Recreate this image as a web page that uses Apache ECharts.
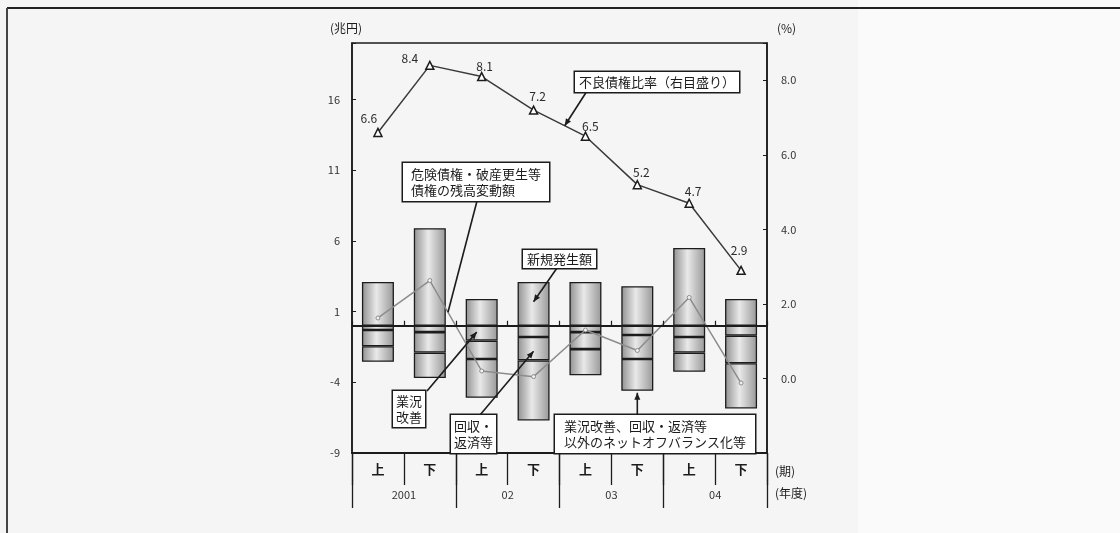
<!DOCTYPE html>
<html lang="ja">
<head>
<meta charset="utf-8">
<title>不良債権の増減要因と不良債権比率</title>
<script src="https://cdn.jsdelivr.net/npm/echarts@6/dist/echarts.min.js"></script>
<style>
  html, body { margin: 0; padding: 0; }
  body { width: 1120px; height: 533px; overflow: hidden;
         background: linear-gradient(to right, #f5f5f5 0, #f5f5f5 858px, #fafafa 858px); }
  #chart { width: 1120px; height: 533px; }
</style>
</head>
<body>
<div id="chart"></div>
<script>
// Half-year periods (上期 / 下期) and fiscal years
const periods = ['上', '下', '上', '下', '上', '下', '上', '下'];
const fiscalYears = ['2001', '02', '03', '04'];

// 兆円 — flows behind the change in problem loans
const newBad     = [3.1, 6.9, 1.9, 3.1, 3.1, 2.8, 5.5, 1.9];          // 新規発生額
const improved   = [-0.3, -0.45, -1.05, -0.8, -0.45, -0.65, -0.8, -0.7]; // 業況改善
const recovered  = [-1.15, -1.45, -1.3, -1.65, -1.2, -1.7, -1.1, -1.95]; // 回収・返済等
const offBalance = [-1.1, -1.8, -2.75, -4.25, -1.85, -2.25, -1.35, -3.2]; // その他ネットオフバランス化等
const balanceChange = [0.55, 3.2, -3.2, -3.6, -0.3, -1.75, 2.0, -4.05];  // 残高変動額

// % — 不良債権比率 (right scale)
const nplRatio = [6.6, 8.4, 8.1, 7.2, 6.5, 5.2, 4.7, 2.9];

// Tick labels
const leftTicks = [-9, -4, 1, 6, 11, 16];
const rightTicks = [0, 2, 4, 6, 8];

const FONT = '"Noto Sans CJK JP", "Noto Sans", sans-serif';
const INK = '#1c1c1c';

const chart = echarts.init(document.getElementById('chart'), null, { renderer: 'canvas' });

const barFill = new echarts.graphic.LinearGradient(0, 0, 1, 0, [
  { offset: 0, color: '#909090' },
  { offset: 0.45, color: '#e9e9e9' },
  { offset: 1, color: '#989898' }
]);

function flowBar(name, data) {
  return {
    name, type: 'bar', stack: 'flow', xAxisIndex: 0, yAxisIndex: 0,
    data, barWidth: 32,
    itemStyle: { color: barFill, borderColor: INK, borderWidth: 1.3 },
    emphasis: { disabled: true }
  };
}

// label placement for the ratio values
const ratioLabelOffsets = [[-9, 0], [-20, 7], [3, 4], [4, 0], [5, 4], [4, 2], [4, 2], [-2, -6]];

const option = {
  animation: false,
  textStyle: { fontFamily: FONT, color: INK },
  grid: {
    left: 352, right: 353, top: 43, bottom: 80,
    show: true, borderColor: INK, borderWidth: 1.6, backgroundColor: 'transparent'
  },
  xAxis: [
    { // zero line with period ticks
      type: 'category', data: periods, position: 'bottom', z: 5,
      axisLine: { onZero: true, onZeroAxisIndex: 0, lineStyle: { color: INK, width: 2 } },
      axisTick: { show: true, inside: true, length: 5, lineStyle: { color: INK, width: 1.2 } },
      axisLabel: { show: false }, splitLine: { show: false }
    },
    { // half-year row
      type: 'category', data: periods, position: 'bottom',
      axisLine: { onZero: false, lineStyle: { color: INK, width: 2 } },
      axisTick: { show: true, length: 32, lineStyle: { color: INK, width: 1.3 } },
      axisLabel: { margin: 10, fontSize: 13, fontWeight: 'bold', color: INK, fontFamily: FONT },
      splitLine: { show: false }
    },
    { // fiscal-year row
      type: 'category', data: fiscalYears, position: 'bottom',
      axisLine: { show: false, onZero: false },
      axisTick: { show: true, length: 55, lineStyle: { color: INK, width: 1.3 } },
      axisLabel: { margin: 36, fontSize: 11, color: '#333', fontFamily: FONT },
      splitLine: { show: false }
    }
  ],
  yAxis: [
    {
      type: 'value', position: 'left', min: -9, max: 20, interval: 5,
      axisLine: { show: true, lineStyle: { color: INK, width: 1.5 } },
      axisTick: { show: true, inside: true, length: 4, lineStyle: { color: INK } },
      axisLabel: {
        margin: 12, fontSize: 11, color: '#333', fontFamily: FONT,
        formatter: v => (leftTicks.includes(v) ? String(v) : '')
      },
      splitLine: { show: false }
    },
    {
      type: 'value', position: 'right', min: -2, max: 9, interval: 2,
      axisLine: { show: true, lineStyle: { color: INK, width: 1.5 } },
      axisTick: { show: true, inside: true, length: 4, lineStyle: { color: INK } },
      axisLabel: {
        margin: 14, fontSize: 11, color: '#333', fontFamily: FONT,
        formatter: v => (rightTicks.includes(v) ? v.toFixed(1) : '')
      },
      splitLine: { show: false }
    }
  ],
  series: [
    flowBar('新規発生額', newBad),
    flowBar('業況改善', improved),
    flowBar('回収・返済等', recovered),
    flowBar('ネットオフバランス化等', offBalance),
    {
      name: '残高変動額', type: 'line', xAxisIndex: 0, yAxisIndex: 0, z: 4,
      data: balanceChange,
      symbol: 'circle', symbolSize: 4,
      itemStyle: { color: '#f2f2f2', borderColor: '#8c8c8c', borderWidth: 1 },
      lineStyle: { color: '#8c8c8c', width: 1.5 },
      emphasis: { disabled: true }
    },
    {
      name: '不良債権比率', type: 'line', xAxisIndex: 0, yAxisIndex: 1, z: 6,
      data: nplRatio.map((v, i) => ({ value: v, label: { offset: ratioLabelOffsets[i] } })),
      symbol: 'triangle', symbolSize: 8,
      itemStyle: { color: '#ffffff', borderColor: INK, borderWidth: 1.5 },
      lineStyle: { color: '#3a3a3a', width: 1.5 },
      label: {
        show: true, position: 'top', distance: 3, fontSize: 12, color: '#2a2a2a',
        fontFamily: FONT, formatter: p => p.value.toFixed(1)
      },
      emphasis: { disabled: true }
    }
  ]
};

chart.setOption(option);

// ---- callouts, units and frame ----
const px = (i, v, yi) => chart.convertToPixel({ xAxisIndex: 0, yAxisIndex: yi || 0 }, [i, v]);
const lerp = (a, b, t) => [a[0] + (b[0] - a[0]) * t, a[1] + (b[1] - a[1]) * t];

function pointer(from, to, head) {
  const els = [{
    type: 'line', silent: true, z: 20,
    shape: { x1: from[0], y1: from[1], x2: to[0], y2: to[1] },
    style: { stroke: INK, lineWidth: 1.6 }
  }];
  if (head) {
    const dx = to[0] - from[0], dy = to[1] - from[1];
    const len = Math.hypot(dx, dy), ux = dx / len, uy = dy / len;
    const hl = 7, hw = 3;
    const bx = to[0] - ux * hl, by = to[1] - uy * hl;
    els.push({
      type: 'polygon', silent: true, z: 20,
      shape: { points: [to, [bx - uy * hw, by + ux * hw], [bx + uy * hw, by - ux * hw]] },
      style: { fill: INK }
    });
  }
  return els;
}

function box(x, y, text, padding, align) {
  return {
    type: 'text', silent: true, z: 21, x, y,
    style: {
      text, font: '13px ' + FONT, fill: INK, lineHeight: 16, align: align || 'left',
      backgroundColor: '#ffffff', borderColor: INK, borderWidth: 1.5, padding
    }
  };
}

function plain(x, y, text, align, size) {
  return {
    type: 'text', silent: true, z: 21, x, y,
    style: { text, font: (size || 12) + 'px ' + FONT, fill: INK, align: align || 'left', verticalAlign: 'middle' }
  };
}

const ratioTip = lerp(px(3, nplRatio[3], 1), px(4, nplRatio[4], 1), 0.6);
const changeTip = lerp(px(1, balanceChange[1]), px(2, balanceChange[2]), 0.35);
const newTip = px(3, 1.7);
const improvedTip = px(2, -0.45); improvedTip[0] -= 5;
const recoveredTip = px(3, -1.8);
const otherBottom = improved[5] + recovered[5] + offBalance[5];
const otherTip = px(5, otherBottom); otherTip[1] += 2;

const elements = [
  // frame lines
  { type: 'line', silent: true, shape: { x1: 7, y1: 8, x2: 1120, y2: 8 }, style: { stroke: '#222', lineWidth: 2 } },
  { type: 'line', silent: true, shape: { x1: 7, y1: 8, x2: 7, y2: 533 }, style: { stroke: '#444', lineWidth: 2 } },
  // units
  plain(346, 28, '(兆円)', 'center', 12),
  plain(777, 28, '(%)', 'left', 12),
  plain(775, 471, '(期)', 'left', 12),
  plain(775, 493, '(年度)', 'left', 12),
  // callouts
  ...pointer([587, 91], ratioTip, true),
  box(575, 72, '不良債権比率（右目盛り）', [2, 4]),
  ...pointer([477, 201], changeTip, false),
  box(403, 163, '危険債権・破産更生等\n債権の残高変動額', [3, 8], 'left'),
  ...pointer([557, 268], newTip, true),
  box(523, 250, '新規発生額', [1, 4]),
  ...pointer([427, 391], improvedTip, true),
  box(393, 391, '業況\n改善', [2, 3]),
  ...pointer([480, 415], recoveredTip, true),
  box(451, 415, '回収・\n返済等', [3, 3]),
  ...pointer([otherTip[0], 415], otherTip, true),
  box(555, 415, '業況改善、回収・返済等\n以外のネットオフバランス化等', [3, 9])
];

chart.setOption({ graphic: { elements } });
</script>
</body>
</html>
